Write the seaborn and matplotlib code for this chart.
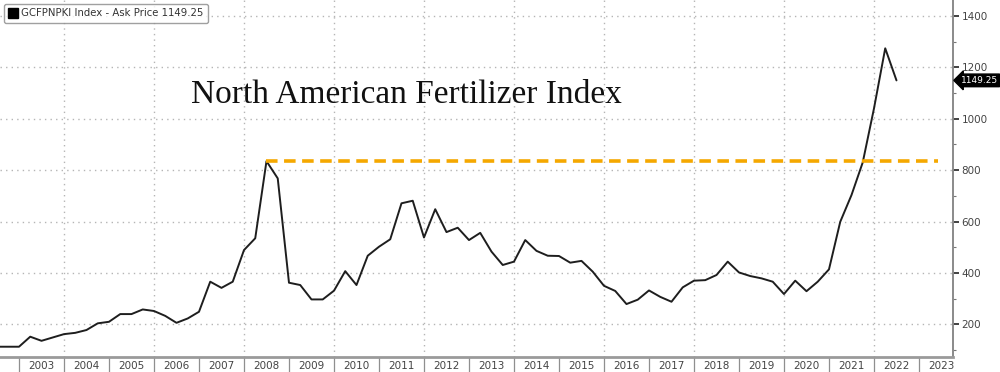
"""North American Fertilizer Index chart (GCFPNPKI ask price, quarterly)."""

import matplotlib.pyplot as plt
import matplotlib.ticker as mticker
import pandas as pd
import seaborn as sns
from matplotlib.lines import Line2D

# quarterly closes, starting 2002 Q3
start_quarter = "2002Q3"
index_values = [
    113, 113,
    113, 152, 136, 149,
    162, 167, 178, 204,
    210, 240, 240, 258,
    252, 233, 206, 223,
    249, 366, 342, 366,
    489, 535, 835, 768,
    362, 353, 297, 297,
    331, 407, 353, 467,
    502, 531, 671, 681,
    538, 648, 559, 576,
    528, 556, 483, 431,
    444, 528, 486, 467,
    466, 440, 447, 405,
    350, 330, 279, 296,
    332, 307, 288, 344,
    370, 372, 392, 444,
    402, 388, 379, 366,
    318, 370, 329, 366,
    414, 599, 703, 830,
    1040, 1274, 1149.25,
]
last_price = 1149.25
peak_2008 = 835
year_labels = list(range(2003, 2024))
y_ticks = [200, 400, 600, 800, 1000, 1200, 1400]

periods = pd.period_range(start_quarter, periods=len(index_values), freq="Q")
df = pd.DataFrame(
    {
        "t": [p.year + (p.quarter - 1) / 4 for p in periods],
        "price": index_values,
    }
)

sns.set_style("white")
plt.rcParams["font.family"] = ["DejaVu Sans"]

fig = plt.figure(figsize=(10, 3.72), dpi=100)
ax = fig.add_axes([0.0, 0.041, 0.953, 0.959])

sns.lineplot(data=df, x="t", y="price", ax=ax, color="#1e1e1e", linewidth=1.4)

# dashed level of the 2008 high
ax.hlines(peak_2008, 2008.5, 2023.42, colors="#f5a800", linestyles=(0, (3.2, 1.8)),
          linewidth=2.6, zorder=3)

ax.set_xlim(2002.578, 2023.756)
ax.set_ylim(74, 1462)
ax.set_xlabel("")
ax.set_ylabel("")

# grid lines
ax.yaxis.grid(True, linestyle=(0, (1, 3)), color="#b5b5b5", linewidth=1)
for yr in range(2004, 2024, 2):
    ax.axvline(yr, linestyle=(0, (1, 3)), color="#b5b5b5", linewidth=1, zorder=0)

# x axis: separators at year starts, labels mid-year
ax.xaxis.set_major_locator(mticker.FixedLocator(year_labels))
ax.xaxis.set_major_formatter(mticker.NullFormatter())
ax.xaxis.set_minor_locator(mticker.FixedLocator([y + 0.5 for y in year_labels]))
ax.xaxis.set_minor_formatter(mticker.FixedFormatter([str(y) for y in year_labels]))
ax.tick_params(axis="x", which="both", bottom=True)
ax.tick_params(axis="x", which="major", direction="out", length=11, width=0.9,
               color="#8f8f8f")
ax.tick_params(axis="x", which="minor", length=0, pad=3, labelsize=7.5,
               labelcolor="#444444")

# y axis on the right
ax.yaxis.tick_right()
ax.tick_params(axis="y", which="both", right=True)
ax.yaxis.set_major_locator(mticker.FixedLocator(y_ticks))
ax.yaxis.set_minor_locator(mticker.MultipleLocator(100))
ax.tick_params(axis="y", which="major", direction="out", length=4, width=1.2,
               color="#222222", labelsize=7.5, labelcolor="#444444", pad=2)
ax.tick_params(axis="y", which="minor", direction="out", length=2, width=0.8,
               color="#777777")

for side in ["top", "left"]:
    ax.spines[side].set_visible(False)
ax.spines["right"].set_color("#8a8a8a")
ax.spines["right"].set_linewidth(1.4)
ax.spines["bottom"].set_color("#9a9a9a")
ax.spines["bottom"].set_linewidth(2)

# legend
handle = Line2D([], [], marker="s", color="black", linestyle="", markersize=6.5)
leg = ax.legend([handle], ["GCFPNPKI Index - Ask Price 1149.25"], loc="upper left",
                bbox_to_anchor=(0.002, 0.995), fontsize=7.3, frameon=True,
                fancybox=True, edgecolor="#888888", handletextpad=0.4,
                handlelength=0.8, borderpad=0.45, borderaxespad=0.2)
leg.get_frame().set_linewidth(1)
for txt in leg.get_texts():
    txt.set_color("#333333")

# last price tag on the right axis
ax.text(1.008, last_price, f"{last_price:.2f}", transform=ax.get_yaxis_transform(),
        color="white", fontsize=6.5, va="center", ha="left",
        bbox=dict(boxstyle="larrow,pad=0.2", fc="black", ec="black"))

fig.text(0.406, 0.745, "North American Fertilizer Index", fontsize=24,
         family=["Liberation Serif"], ha="center", va="center", color="#111111")

plt.savefig("out.png", dpi=100)
